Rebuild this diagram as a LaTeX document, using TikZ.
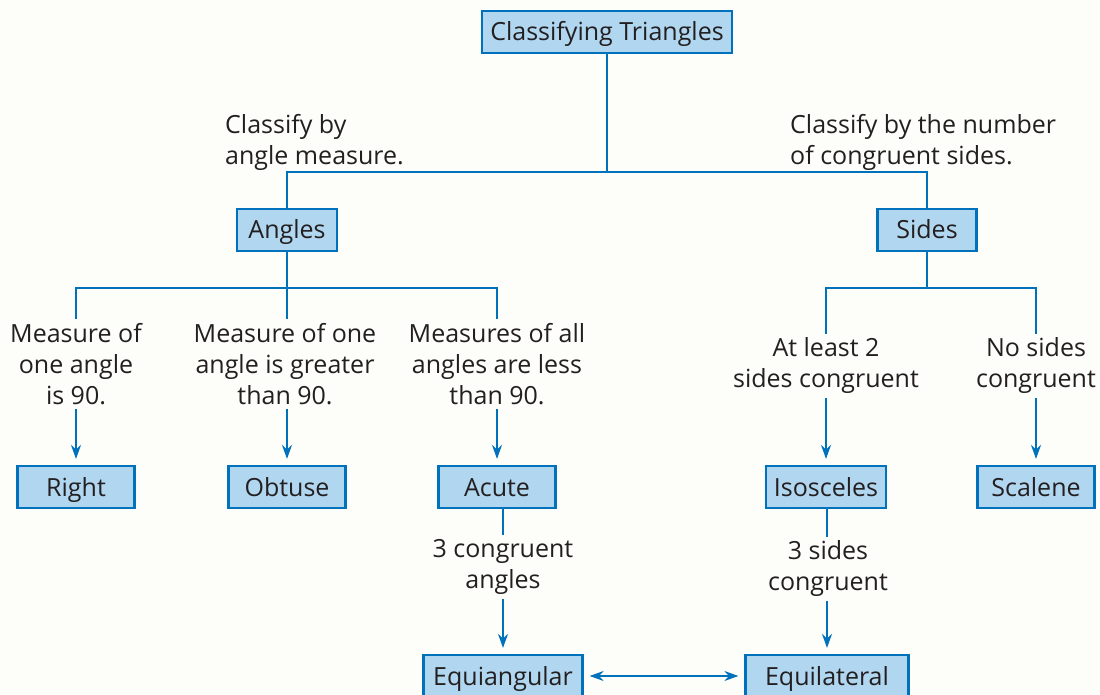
\documentclass[tikz,border=0pt]{standalone}
\usepackage{fontspec}
\setmainfont{Open Sans}
\usetikzlibrary{arrows.meta,positioning}
\definecolor{treeblue}{RGB}{0,114,188}
\definecolor{boxfill}{RGB}{176,214,240}
\definecolor{inkgray}{RGB}{35,31,32}
\definecolor{paper}{RGB}{253,253,249}

\tikzset{
  catbox/.style={draw=treeblue, fill=boxfill, line width=2.2pt, minimum height=42pt,
    text height=22pt, text depth=4pt,
    inner xsep=8pt, inner ysep=0pt, text=inkgray, font=\fontsize{25}{31}\selectfont},
  leafbox/.style={catbox, minimum width=117pt},
  note/.style={align=center, text=inkgray, font=\fontsize{25}{31}\selectfont, inner sep=4pt},
  link/.style={treeblue, line width=2pt},
  arr/.style={link, -{Stealth[length=14pt,width=10pt]}, shorten >=6pt},
}

\begin{document}
\begin{tikzpicture}[x=1pt,y=-1pt]
  \fill[paper] (0,0) rectangle (1100,695);
  \useasboundingbox (0,0) rectangle (1100,695);

  % top levels
  \node[catbox, minimum width=248pt] (title) at (607,32) {Classifying Triangles};
  \node[note, anchor=west, align=left] (byangle) at (221,142) {Classify by\\angle measure.};
  \node[note, anchor=west, align=left] (bysides) at (786,142) {Classify by the number\\of congruent sides.};
  \node[catbox, minimum width=100pt] (angles) at (287,230) {Angles};
  \node[catbox, minimum width=99pt] (sides) at (927,230) {Sides};

  % conditions
  \node[note] (is90) at (76,364) {Measure of\\one angle\\is 90.};
  \node[note] (over90) at (285,364) {Measure of one\\angle is greater\\than 90.};
  \node[note] (under90) at (497,364) {Measures of all\\angles are less\\than 90.};
  \node[note] (twosides) at (826,366) {At least 2\\sides congruent};
  \node[note] (nosides) at (1036,366) {No sides\\congruent};

  % triangle types
  \node[leafbox] (right) at (76,487) {Right};
  \node[leafbox] (obtuse) at (287,487) {Obtuse};
  \node[leafbox] (acute) at (497,487) {Acute};
  \node[leafbox] (isosceles) at (826,487) {Isosceles};
  \node[leafbox] (scalene) at (1036,487) {Scalene};

  \node[note] (threeang) at (503,567) {3 congruent\\angles};
  \node[note] (threesid) at (828,569) {3 sides\\congruent};
  \node[catbox, minimum width=159pt] (equiang) at (503,676) {Equiangular};
  \node[catbox, minimum width=163pt] (equilat) at (827,676) {Equilateral};

  % branching lines
  \coordinate (split) at (607,172);
  \coordinate (asplit) at (287,288);
  \coordinate (ssplit) at (927,288);
  \draw[link] (title) -- (split);
  \draw[link] (angles.north) -- (angles.north |- split) -- (sides.north |- split) -- (sides.north);
  \draw[link] (angles) -- (asplit);
  \draw[link] (is90.north) -- (is90.north |- asplit) -- (under90.north |- asplit) -- (under90.north);
  \draw[link] (asplit) -- (asplit |- over90.north);
  \draw[link] (sides) -- (ssplit);
  \draw[link] (twosides.north) -- (twosides.north |- ssplit) -- (nosides.north |- ssplit) -- (nosides.north);

  % arrows to the types
  \draw[arr] (is90) -- (right);
  \draw[arr] (over90.south -| obtuse) -- (obtuse);
  \draw[arr] (under90) -- (acute);
  \draw[arr] (twosides) -- (isosceles);
  \draw[arr] (nosides) -- (scalene);

  \draw[link] (equiang.north |- acute.south) -- (equiang.north |- threeang.north);
  \draw[arr] (threeang) -- (equiang);
  \draw[link] (equilat.north |- isosceles.south) -- (equilat.north |- threesid.north);
  \draw[arr] (threesid.south -| equilat) -- (equilat);
  \draw[link, {Stealth[length=14pt,width=10pt]}-{Stealth[length=14pt,width=10pt]},
    shorten <=6pt, shorten >=6pt] (equiang) -- (equilat);
\end{tikzpicture}
\end{document}
